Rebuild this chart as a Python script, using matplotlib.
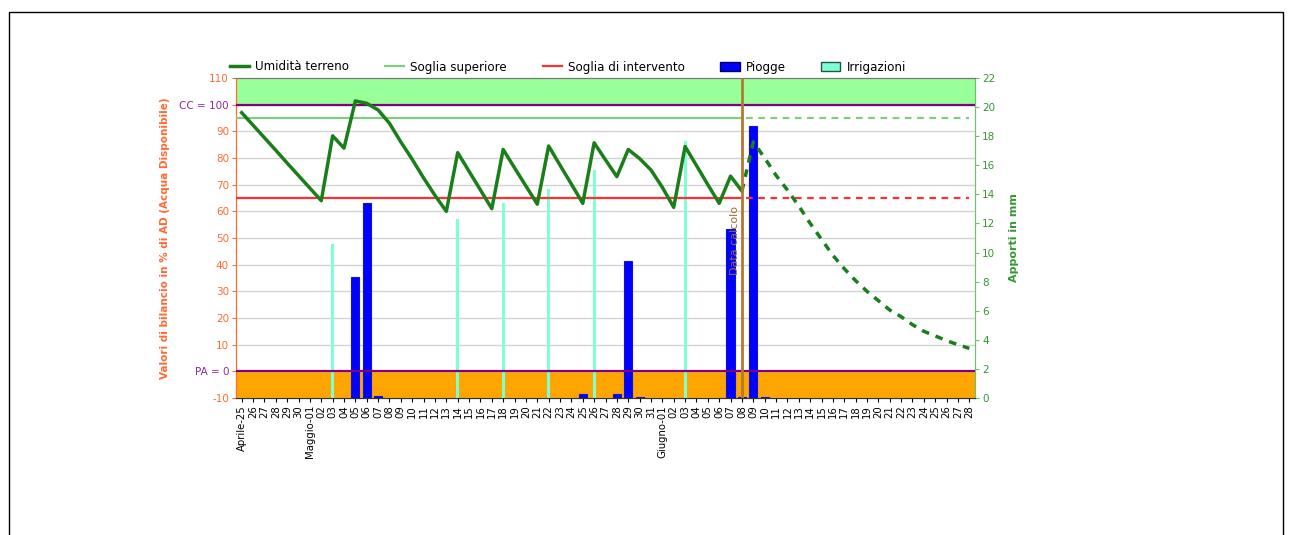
import matplotlib
matplotlib.use("Agg")
import matplotlib.pyplot as plt
from matplotlib.lines import Line2D
from matplotlib.patches import Patch, Rectangle

# giorni: 25 aprile -> 28 giugno
giorni = (["Aprile-25"] + ["%02d" % d for d in range(26, 31)]
          + ["Maggio-01"] + ["%02d" % d for d in range(2, 32)]
          + ["Giugno-01"] + ["%02d" % d for d in range(2, 29)])

# umidita' terreno (% AD) fino alla data di calcolo
umidita = [97, 92.3, 87.6, 82.9, 78.1, 73.4, 68.7, 64, 88.3, 83.7,
           101.4, 100.5, 98, 93, 86, 79.5, 72.5, 66, 60, 82,
           75, 68, 61, 83.2, 76.3, 69.5, 62.7, 84.5, 77.3, 70.2,
           63, 85.7, 79.3, 73, 83.2, 79.8, 75.5, 69, 61.5, 84.3,
           77.2, 70, 63, 73.2, 67.6]
# previsione dopo la data di calcolo
previsione = [67.6, 86, 80, 73.5, 68, 62, 55.5, 49.5, 43.5, 38.5, 34,
              30, 26.5, 23, 20.5, 17.5, 15, 13.3, 11.5, 10, 8.6]

# apporti in mm
piogge_giorni = [10, 11, 12, 30, 33, 34, 35, 43, 44, 45, 46]
piogge_mm = [8.3, 13.4, 0.15, 0.3, 0.25, 9.4, 0.1, 11.6, 0.1, 18.7, 0.1]
irrig_giorni = [8, 19, 23, 27, 31, 39]
irrig_mm = [10.6, 12.3, 13.4, 14.35, 15.7, 17.7]

soglia_sup = 95
soglia_int = 65
cc = 100
pa = 0
data_calcolo = 44

x = list(range(len(giorni)))
x_oss = x[:data_calcolo + 1]
x_prev = x[data_calcolo:]

fig = plt.figure(figsize=(12.95, 5.35), dpi=100)
ax = fig.add_axes([236 / 1295, 1 - 398 / 535, 739 / 1295, 320 / 535])
ax2 = ax.twinx()

arancio = "#ff6a33"
verde_dx = "#339933"

ax.set_xlim(-0.5, len(giorni) - 0.5)
ax.set_ylim(-10, 110)
ax2.set_ylim(0, 22)

# fasce e griglia
ax.axhspan(cc, 110, color="#99ff99", zorder=0)
ax.axhspan(-10, pa, color="#ffa500", zorder=0)
for v in range(-10, 111, 10):
    ax.axhline(v, color="#d4d4d4", lw=1, zorder=0.5)

# barre
ax2.bar(piogge_giorni, piogge_mm, width=0.72, color="#0000ff",
        edgecolor="#1010dd", lw=0.8, zorder=2)
ax2.bar(irrig_giorni, irrig_mm, width=0.25, color="#7fffd4", lw=0, zorder=2)

tr = ax.transData
xs = [-0.5, len(giorni) - 0.5]
ax2.plot(xs, [cc, cc], color="#800080", lw=1.6, transform=tr, zorder=3)
ax2.plot(xs, [pa, pa], color="#800080", lw=1.6, transform=tr, zorder=3)

ax2.plot([-0.5, data_calcolo], [soglia_sup] * 2, color="#80cc80", lw=1.6,
         transform=tr, zorder=3)
ax2.plot([data_calcolo + 0.4, len(giorni) - 1], [soglia_sup] * 2,
         color="#80cc80", lw=1.6, ls=(0, (3, 2.5)), transform=tr, zorder=3)
ax2.plot([-0.5, data_calcolo], [soglia_int] * 2, color="#ff3030", lw=1.6,
         transform=tr, zorder=3)
ax2.plot([data_calcolo + 0.4, len(giorni) - 1], [soglia_int] * 2,
         color="#ff3030", lw=1.6, ls=(0, (3, 2.5)), transform=tr, zorder=3)

ax2.plot(x_oss, umidita, color="#1a7f1a", lw=2.5, transform=tr, zorder=4)
ax2.plot(x_prev, previsione, color="#1a7f1a", lw=2.5, ls=(0, (2.2, 2)),
         transform=tr, zorder=4)

ax2.plot([data_calcolo, data_calcolo], [-10, 110], color="#b07a35", lw=2,
         transform=tr, zorder=5)
ax2.text(data_calcolo - 0.65, 49, "Data calcolo", rotation=90, color="#a06a30",
         fontsize=8, ha="center", va="center", transform=tr, zorder=5)

# assi
ax.set_xticks(x)
ax.set_xticklabels(giorni, rotation=90, fontsize=7.3)
ax.tick_params(axis="x", length=3, pad=2)

yt = list(range(-10, 111, 10))
ax.set_yticks(yt)
ylab = []
for v in yt:
    if v == cc:
        ylab.append("CC = 100")
    elif v == pa:
        ylab.append("PA = 0")
    else:
        ylab.append(str(v))
ax.set_yticklabels(ylab, fontsize=7.5)
for t, v in zip(ax.get_yticklabels(), yt):
    t.set_color("#8b2a9b" if v in (cc, pa) else arancio)
ax.tick_params(axis="y", length=3, color=arancio, pad=2)
ax.set_ylabel("Valori di bilancio in % di AD (Acqua Disponibile)",
              color=arancio, fontsize=7.5, fontweight="bold", labelpad=7)

ax2.set_yticks(range(0, 23, 2))
ax2.tick_params(axis="y", length=3, color="#70c070", labelcolor=verde_dx,
                labelsize=7.5, pad=2)
ax2.set_ylabel("Apporti in mm", color=verde_dx, fontsize=8,
               fontweight="bold", labelpad=10)

for a in (ax, ax2):
    a.spines["left"].set_color(arancio)
    a.spines["right"].set_color("#70c070")
    a.spines["top"].set_color("#777777")
    a.spines["bottom"].set_color("#333333")

handles = [
    Line2D([], [], color="#1a7f1a", lw=2.5),
    Line2D([], [], color="#80cc80", lw=1.6),
    Line2D([], [], color="#ff3030", lw=1.6),
    Patch(facecolor="#0000ff", edgecolor="#000066"),
    Patch(facecolor="#7fffd4", edgecolor="#225544"),
]
nomi = ["Umidità terreno", "Soglia superiore", "Soglia di intervento",
        "Piogge", "Irrigazioni"]
fig.legend(handles, nomi, loc="center", ncol=5, frameon=False,
           bbox_to_anchor=(568 / 1295, 1 - 67 / 535), fontsize=8.6,
           handlelength=1.6, handleheight=0.7, columnspacing=3.0,
           handletextpad=0.5)

fig.patches.append(Rectangle((9 / 1295, -0.05), 1274 / 1295, 1.05 - 12 / 535,
                             transform=fig.transFigure, fill=False,
                             edgecolor="black", lw=1))

fig.savefig("out.png", dpi=100)
